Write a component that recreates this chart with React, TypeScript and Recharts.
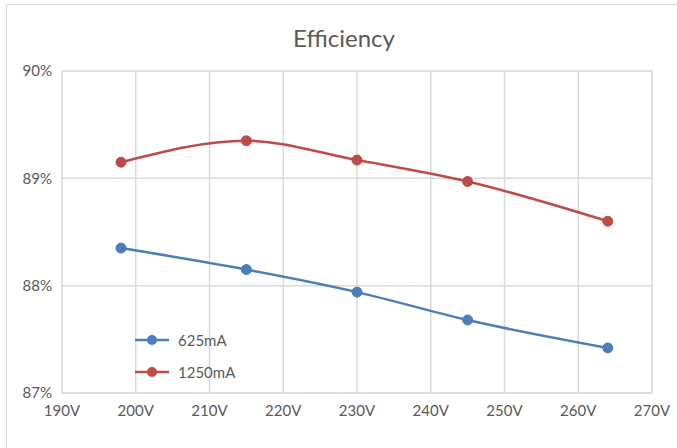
import React from 'react';
import { LineChart, Line, XAxis, YAxis, CartesianGrid, Legend } from 'recharts';

// input voltage (V)
const voltages = [198, 215, 230, 245, 264];
// efficiency (%) per output current
const eff625 = [88.35, 88.15, 87.94, 87.68, 87.42];
const eff1250 = [89.15, 89.35, 89.17, 88.97, 88.6];

const xTicks = [190, 200, 210, 220, 230, 240, 250, 260, 270];
const yTicks = [87, 88, 89, 90];

const series = [
  { key: 'ma625', name: '625mA', color: '#4A7EBB', values: eff625 },
  { key: 'ma1250', name: '1250mA', color: '#BE4B48', values: eff1250 },
];

const data = voltages.map((v, i) => ({
  v,
  ma625: eff625[i],
  ma1250: eff1250[i],
}));

const FONT = 'Lato, "Liberation Sans", sans-serif';
const TEXT = '#595959';
const GRID = '#d9d9d9';

function LegendBox() {
  return (
    <div style={{ fontFamily: FONT, fontSize: 15, color: TEXT }}>
      {series.map((s) => (
        <div key={s.key} style={{ display: 'flex', alignItems: 'center', height: 32 }}>
          <svg width={44} height={12}>
            <line x1={1} y1={6} x2={35} y2={6} stroke={s.color} strokeWidth={2.5} />
            <circle cx={18} cy={6} r={5} fill={s.color} />
          </svg>
          <span>{s.name}</span>
        </div>
      ))}
    </div>
  );
}

export default function App() {
  return (
    <div
      style={{
        position: 'absolute',
        left: 0,
        top: 0,
        width: 677,
        height: 448,
        background: '#fff',
        overflow: 'hidden',
      }}
    >
      <div
        style={{
          position: 'absolute',
          left: 6,
          top: 4,
          width: 700,
          height: 470,
          border: `1px solid ${GRID}`,
        }}
      />
      <div
        style={{
          position: 'absolute',
          left: 0,
          width: 688,
          top: 23,
          textAlign: 'center',
          fontFamily: FONT,
          fontSize: 24,
          color: TEXT,
        }}
      >
        Efficiency
      </div>
      <div style={{ position: 'absolute', left: 0, top: 0 }}>
        <LineChart
          width={677}
          height={448}
          data={data}
          margin={{ top: 71, right: 25, bottom: 25, left: 0 }}
        >
          <CartesianGrid stroke={GRID} strokeWidth={1.5} />
          <XAxis
            dataKey="v"
            type="number"
            domain={[190, 270]}
            ticks={xTicks}
            tickFormatter={(t) => `${t}V`}
            height={30}
            axisLine={{ stroke: GRID, strokeWidth: 1.5 }}
            tickLine={false}
            tickSize={0}
            tickMargin={12}
            tick={{ fill: TEXT, fontSize: 15, fontFamily: FONT }}
            interval={0}
          />
          <YAxis
            type="number"
            domain={[87, 90]}
            ticks={yTicks}
            tickFormatter={(t) => `${t}%`}
            width={62}
            axisLine={false}
            tickLine={false}
            tickSize={0}
            tickMargin={10}
            tick={{ fill: TEXT, fontSize: 15, fontFamily: FONT }}
            interval={0}
          />
          <Legend
            layout="vertical"
            align="center"
            verticalAlign="middle"
            wrapperStyle={{ left: 134, top: 324, width: 140 }}
            content={() => <LegendBox />}
          />
          {series.map((s) => (
            <Line
              key={s.key}
              dataKey={s.key}
              name={s.name}
              type="monotone"
              stroke={s.color}
              strokeWidth={2.5}
              dot={{ r: 5, fill: s.color, stroke: s.color, strokeWidth: 1 }}
              activeDot={false}
              isAnimationActive={false}
            />
          ))}
        </LineChart>
      </div>
    </div>
  );
}
